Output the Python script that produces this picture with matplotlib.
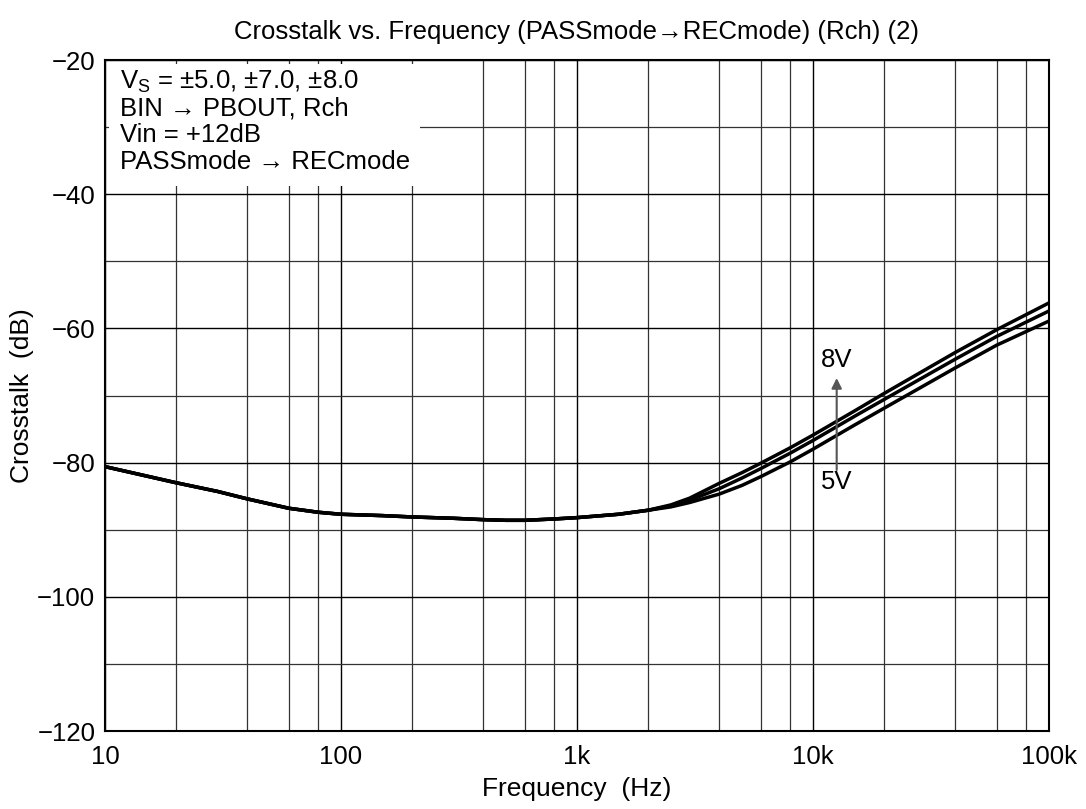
import numpy as np
import matplotlib
matplotlib.use('Agg')
import matplotlib.pyplot as plt
from matplotlib.ticker import FixedLocator, FixedFormatter, LogLocator, MultipleLocator, NullFormatter
from matplotlib.patches import Rectangle

plt.rcParams['font.family'] = ['Liberation Sans', 'DejaVu Sans']
plt.rcParams['mathtext.fontset'] = 'custom'
plt.rcParams['mathtext.rm'] = 'Liberation Sans'
plt.rcParams['mathtext.it'] = 'Liberation Sans'

freq = [10, 20, 30, 40, 60, 80, 100, 150, 200, 300, 400, 500, 600, 800, 1000, 1500,
        2000, 2500, 3000, 4000, 5000, 6000, 8000, 10000, 15000, 20000, 40000, 60000, 100000]
low = [-80.6, -83.0, -84.3, -85.4, -86.8, -87.4, -87.7, -87.9, -88.1, -88.3, -88.5, -88.6,
       -88.6, -88.4, -88.2, -87.7, -87.1]
xtalk_8v = low + [-86.3, -85.3, -83.1, -81.5, -80.1, -77.8, -75.9, -72.3, -69.7, -63.6, -60.2, -56.2]
xtalk_7v = low + [-86.45, -85.6, -83.9, -82.3, -80.9, -78.6, -76.7, -73.1, -70.6, -64.6, -61.2, -57.4]
xtalk_5v = low + [-86.6, -85.95, -84.7, -83.4, -82.1, -79.9, -78.0, -74.4, -71.9, -65.9, -62.5, -58.9]

xticks = [10, 100, 1000, 10000, 100000]
xticklabels = ['10', '100', '1k', '10k', '100k']
yticks = [-120, -100, -80, -60, -40, -20]
yticklabels = ['\u2212120', '\u2212100', '\u221280', '\u221260', '\u221240', '\u221220']

info = ['V$_\\mathrm{S}$ = \u00b15.0, \u00b17.0, \u00b18.0',
        'BIN \u2192 PBOUT, Rch',
        'Vin = +12dB',
        'PASSmode \u2192 RECmode']

fig = plt.figure(figsize=(10.86, 8.09), dpi=100)
ax = fig.add_axes([105/1086, 1 - 731/809, 944/1086, 671/809])

for ys in [xtalk_8v, xtalk_7v, xtalk_5v]:
    ax.plot(freq, ys, color='black', lw=2.5, solid_joinstyle='round', zorder=3)

ax.set_xscale('log')
ax.set_xlim(10, 100000)
ax.set_ylim(-120, -20)
ax.xaxis.set_major_locator(FixedLocator(xticks))
ax.xaxis.set_major_formatter(FixedFormatter(xticklabels))
ax.xaxis.set_minor_locator(LogLocator(base=10, subs=[2, 4, 6, 8]))
ax.xaxis.set_minor_formatter(NullFormatter())
ax.yaxis.set_major_locator(FixedLocator(yticks))
ax.yaxis.set_major_formatter(FixedFormatter(yticklabels))
ax.yaxis.set_minor_locator(MultipleLocator(10))

ax.grid(True, which='major', color='black', lw=1.0)
ax.grid(True, which='minor', color='#333333', lw=0.9)
ax.tick_params(which='both', length=0, labelsize=18.5)
ax.tick_params(axis='x', pad=10)
ax.tick_params(axis='y', pad=7)
for s in ax.spines.values():
    s.set_linewidth(1.5)

# white box behind the condition text
ax.add_patch(Rectangle((0.004, 0.812), 0.33, 0.182, transform=ax.transAxes,
                       facecolor='white', edgecolor='none', zorder=1.8))
for i, line in enumerate(info):
    ax.text(0.016, 0.967 - i * 0.0395, line, transform=ax.transAxes, fontsize=18.5,
            va='center', ha='left', zorder=4)

ax.annotate('', xy=(12600, -67.4), xytext=(12600, -81.1),
            arrowprops=dict(arrowstyle='-|>', color='#555555', lw=1.5,
                            mutation_scale=15, shrinkA=0, shrinkB=0), zorder=4)
ax.text(12600, -64.7, '8V', fontsize=18.5, ha='center', va='center')
ax.text(12600, -82.9, '5V', fontsize=18.5, ha='center', va='center')

ax.set_xlabel('Frequency  (Hz)', fontsize=19, labelpad=6)
ax.set_ylabel('Crosstalk  (dB)', fontsize=19, labelpad=2)
ax.set_title('Crosstalk vs. Frequency (PASSmode\u2192RECmode) (Rch) (2)', fontsize=18.5, pad=15)

fig.savefig('out.png', dpi=100)
